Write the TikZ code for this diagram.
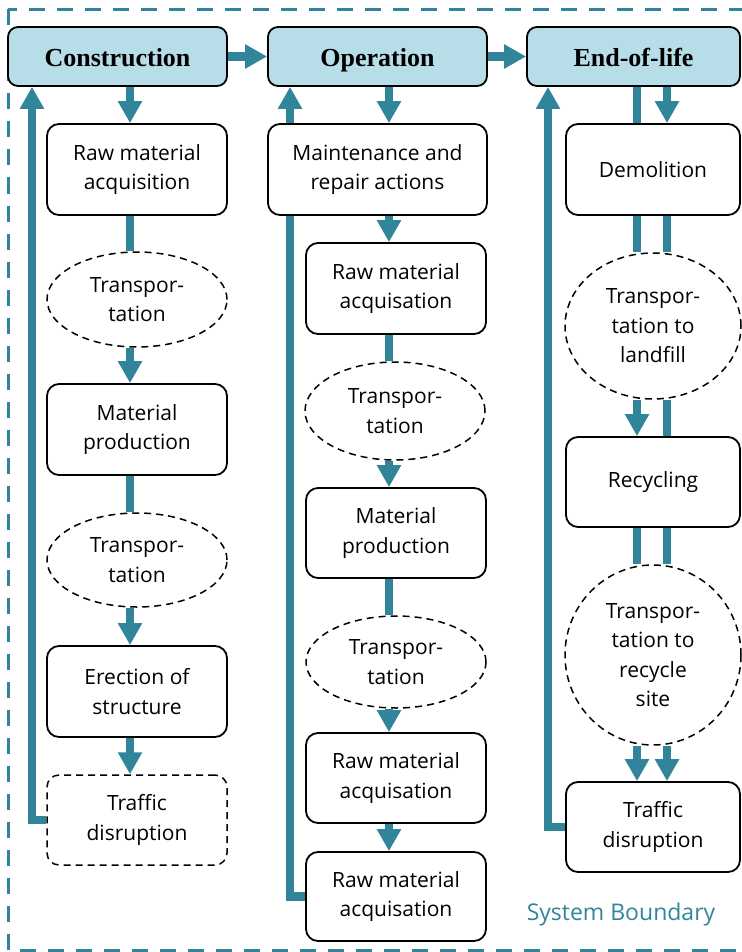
\documentclass[tikz,border=0pt]{standalone}
\usepackage{fontspec}
\setmainfont{Open Sans}
\newfontfamily\headfont{Liberation Serif}
\usetikzlibrary{arrows.meta,shapes.geometric,backgrounds}
\definecolor{tealc}{RGB}{49,133,155}
\definecolor{hdfill}{RGB}{183,222,232}
\begin{document}
\begin{tikzpicture}[x=1pt,y=-1pt,
  hdr/.style={draw, line width=1.8pt, rounded corners=10pt, fill=hdfill, inner sep=0pt,
    text height=20pt, text depth=0pt,
    font=\headfont\bfseries\fontsize{26}{30}\selectfont},
  box/.style={draw, line width=1.8pt, rounded corners=12pt, fill=white, align=center, inner sep=0pt,
    font=\fontsize{21}{29.5}\selectfont},
  dbox/.style={box, dash pattern=on 7pt off 5pt, line width=1.5pt},
  ell/.style={ellipse, draw, line width=1.5pt, dash pattern=on 7pt off 5pt, fill=white, align=center,
    inner sep=0pt, font=\fontsize{21}{29.5}\selectfont},
  flow/.style={draw=tealc, line width=8.5pt},
  flowarrow/.style={flow, -{Triangle[width=23pt,length=22pt]}}
]
\useasboundingbox (0,0) rectangle (741,952);

% headers
\node[hdr, minimum width=219pt, minimum height=59pt] (c1h) at (117.5,56.5) {Construction};
\node[hdr, minimum width=219pt, minimum height=59pt] (c2h) at (377.5,56.5) {Operation};
\node[hdr, minimum width=213pt, minimum height=59pt] (c3h) at (633.5,56.5) {End-of-life};

% column 1
\node[box, minimum width=180pt, minimum height=91pt] (r1) at (137,169.5) {Raw material\\acquisition};
\node[ell, minimum width=180pt, minimum height=95pt] (e1) at (137,299.5) {Transpor-\\tation};
\node[box, minimum width=180pt, minimum height=91pt] (m1) at (137,429.5) {Material\\production};
\node[ell, minimum width=180pt, minimum height=94pt] (e2) at (137,560) {Transpor-\\tation};
\node[box, minimum width=180pt, minimum height=91pt] (er1) at (137,691.5) {Erection of\\structure};
\node[dbox, minimum width=180pt, minimum height=90pt] (td1) at (137,820) {Traffic\\disruption};

% column 2
\node[box, minimum width=219pt, minimum height=91pt] (mr) at (377.5,169.5) {Maintenance and\\repair actions};
\node[box, minimum width=180pt, minimum height=91pt] (ra1) at (396,288.5) {Raw material\\acquisation};
\node[ell, minimum width=180pt, minimum height=98pt] (e3) at (395,411) {Transpor-\\tation};
\node[box, minimum width=180pt, minimum height=90pt] (mp2) at (396,533) {Material\\production};
\node[ell, minimum width=180pt, minimum height=92pt] (e4) at (396,662) {Transpor-\\tation};
\node[box, minimum width=180pt, minimum height=90pt] (ra2) at (396,778) {Raw material\\acquisation};
\node[box, minimum width=180pt, minimum height=89pt] (ra3) at (396,896.5) {Raw material\\acquisation};

% column 3
\node[box, minimum width=174pt, minimum height=91pt] (dem) at (653,169.5) {Demolition};
\node[ell, minimum width=176pt, minimum height=146pt] (e5) at (653,326) {Transpor-\\tation to\\landfill};
\node[box, minimum width=174pt, minimum height=90pt] (rec) at (653,482) {Recycling};
\node[ell, minimum width=176pt, minimum height=180pt] (e6) at (653,655) {Transpor-\\tation to\\recycle\\site};
\node[box, minimum width=174pt, minimum height=90pt] (td3) at (653,827) {Traffic\\disruption};

\node[text=tealc, font=\fontsize{23}{27}\selectfont, inner sep=0pt] (sb) at (621,915) {System Boundary};

% x positions of connectors
\coordinate (x1) at (130,0);
\coordinate (x2) at (389,0);
\coordinate (x3a) at (637,0);
\coordinate (x3b) at (667,0);
\coordinate (f1) at (32,0);
\coordinate (f2) at (290,0);
\coordinate (f3) at (548,0);

\begin{scope}[on background layer]
  \draw[tealc, line width=3pt, dash pattern=on 16pt off 12pt] (8,9.5) rectangle (780,950);
  % header flow
  \draw[flowarrow] (c1h.east) -- (c2h.west);
  \draw[flowarrow] (c2h.east) -- (c3h.west);
  % column 1
  \draw[flowarrow] (x1 |- c1h.south) -- (x1 |- r1.north);
  \draw[flow] (x1 |- r1.south) -- (x1 |- e1.north);
  \draw[flowarrow] (x1 |- e1.south) -- (x1 |- m1.north);
  \draw[flow] (x1 |- m1.south) -- (x1 |- e2.north);
  \draw[flowarrow] (x1 |- e2.south) -- (x1 |- er1.north);
  \draw[flowarrow] (x1 |- er1.south) -- (x1 |- td1.north);
  \draw[flowarrow] (td1.west) -| (f1 |- c1h.south);
  % column 2
  \draw[flowarrow] (x2 |- c2h.south) -- (x2 |- mr.north);
  \draw[flowarrow] (x2 |- mr.south) -- (x2 |- ra1.north);
  \draw[flow] (x2 |- ra1.south) -- (x2 |- e3.north);
  \draw[flowarrow] (x2 |- e3.south) -- (x2 |- mp2.north);
  \draw[flow] (x2 |- mp2.south) -- (x2 |- e4.north);
  \draw[flowarrow] (x2 |- e4.south) -- (x2 |- ra2.north);
  \draw[flowarrow] (x2 |- ra2.south) -- (x2 |- ra3.north);
  \draw[flowarrow] (ra3.west) -| (f2 |- c2h.south);
  % column 3
  \draw[flow] (x3a |- c3h.south) -- (x3a |- dem.north);
  \draw[flowarrow] (x3b |- c3h.south) -- (x3b |- dem.north);
  \draw[flow] (x3a |- dem.south) -- (x3a |- e5.north);
  \draw[flow] (x3b |- dem.south) -- (x3b |- e5.north);
  \draw[flowarrow] (x3a |- e5.south) -- (x3a |- rec.north);
  \draw[flow] (x3b |- e5.south) -- (x3b |- rec.north);
  \draw[flow] (x3a |- rec.south) -- (x3a |- e6.north);
  \draw[flow] (x3b |- rec.south) -- (x3b |- e6.north);
  \draw[flowarrow] (x3a |- e6.south) -- (x3a |- td3.north);
  \draw[flowarrow] (x3b |- e6.south) -- (x3b |- td3.north);
  \draw[flowarrow] (td3.west) -| (f3 |- c3h.south);
\end{scope}
\end{tikzpicture}
\end{document}
